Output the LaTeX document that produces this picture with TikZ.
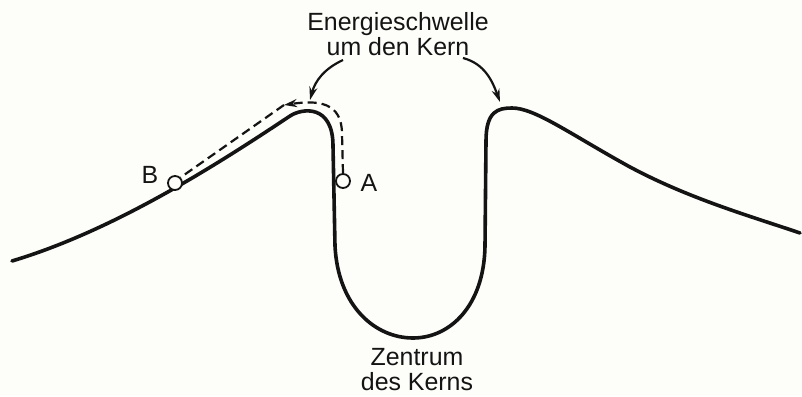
\documentclass[tikz,border=0pt]{standalone}
\usepackage{fontspec}
\setmainfont{Liberation Sans}
\usepackage{tikz}
\usetikzlibrary{arrows.meta}
\definecolor{potInk}{HTML}{141414}
\definecolor{potPaper}{HTML}{FDFDF9}

\begin{document}
\begin{tikzpicture}[x=1bp,y=1bp,>={Stealth[length=13bp,width=8bp]},
  lab/.style={font=\fontsize{25}{25}\selectfont,text=potInk,align=center,inner sep=0pt},
  wall/.style={draw=potInk,line width=3.6bp,line join=round,line cap=round},
  ball/.style={circle,draw=potInk,line width=1.8bp,fill=potPaper,minimum size=14bp,inner sep=0pt},
  track/.style={draw=potInk,line width=2.2bp,dash pattern=on 9bp off 5bp},
  hint/.style={->,draw=potInk,line width=2.2bp}
]
  \fill[potPaper] (0,0) rectangle (802,396);
  \useasboundingbox (0,0) rectangle (802,396);

  % potential well with barrier
  \draw[wall] (12,135) .. controls (112,165) and (212,228) .. (290,280)
    .. controls (302,288) and (333,292) .. (333,250)
    -- (335,150) .. controls (338,90) and (375,58) .. (413,58)
    .. controls (450,58) and (484,90) .. (485,150)
    -- (486,255) .. controls (486,285) and (498,288) .. (512,288)
    .. controls (535,288) and (570,262) .. (630,229)
    .. controls (690,197) and (750,180) .. (800,163);

  \node[ball] (ballB) at (175,213) {};
  \node[ball] (ballA) at (343,215) {};
  \node[lab] (labB) at (150,221) {B};
  \node[lab] (labA) at (369,213) {A};

  % path of the particle
  \coordinate (tip) at (284,291);
  \draw[track,->] (ballA.north) -- (342,262) .. controls (342,294) and (318,296) .. (tip);
  \draw[track] (tip) -- (ballB.north east);

  \node[lab] (barrier) at (398,362) {Energieschwelle\\um den Kern};
  \coordinate (fromL) at (343,336);
  \coordinate (fromR) at (463,338);
  \coordinate (peakL) at (310,296);
  \coordinate (peakR) at (500,294);
  \draw[hint] (fromL) to[out=205,in=75] (peakL);
  \draw[hint] (fromR) to[out=-15,in=110] (peakR);

  \node[lab] (centre) at (417,26) {Zentrum\\des Kerns};
\end{tikzpicture}
\end{document}
